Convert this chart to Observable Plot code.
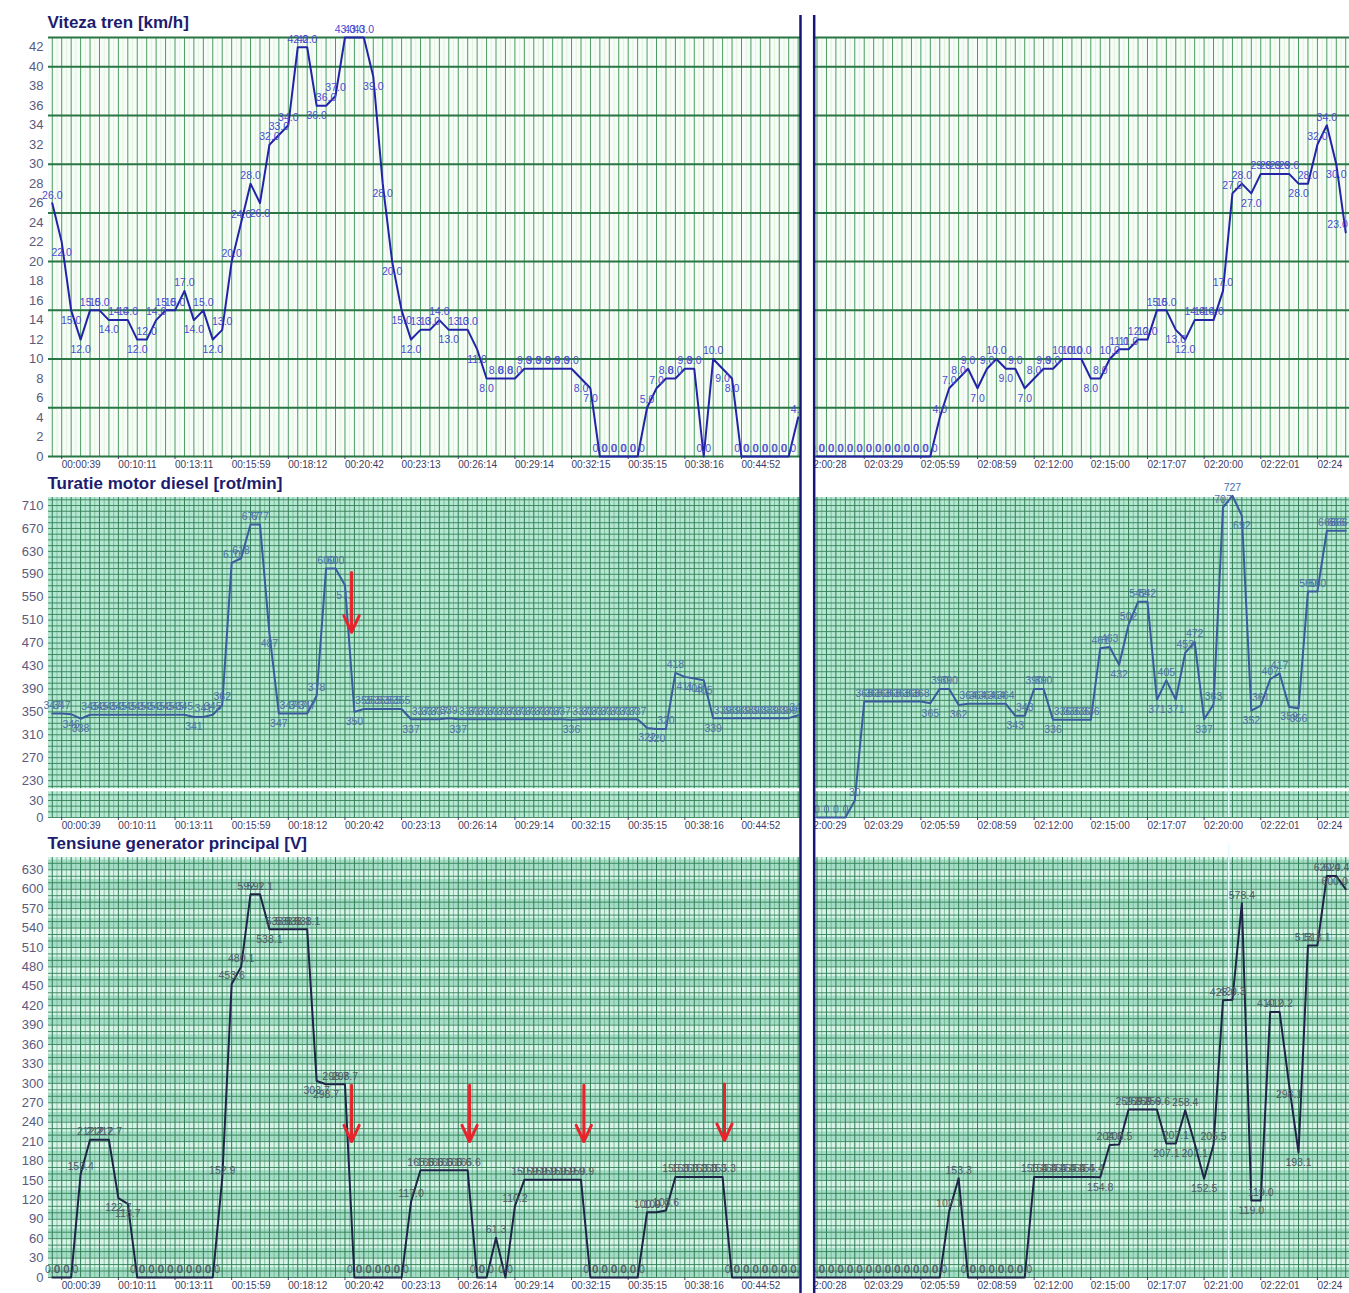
<!DOCTYPE html>
<html><head><meta charset="utf-8">
<script src="https://cdn.jsdelivr.net/npm/d3@7"></script>
<script src="https://cdn.jsdelivr.net/npm/@observablehq/plot@0.6"></script>
<style>
body{margin:0;background:#fff;font-family:"Liberation Sans",Arial,sans-serif;}
#wrap{width:1349px;overflow:hidden;}
#wrap svg{display:block;}
</style></head><body><div id="wrap"></div>
<script>
// ---------- DATA ----------
// sample indices: left block 0..79, right block 81..137
const idxLeft = d3.range(0, 80);
const idxRight = d3.range(81, 138);

const speedLeft = [26,22,15,12,15,15,14,14,14,12, 12,14,15,15,17,14,15,12,13,20, 24,28,26,32,33,34,42,42,36,36,
  37,43,43,43,39,28,20,15,12,13, 13,14,13,13,13,11,8,8,8,8, 9,9,9,9,9,9,8,7,0,0, 0,0,0,5,7,8,8,9,9,0, 10,9,8,0,0,0,0,0,0,4];
const speedRight = [0,0,0,0,0,0,0,0,0,0, 0,0,0,4,7,8,9,7,9,10, 9,9,7,8,9,9,10,10,10,8, 8,10,11,11,12,12,15,15,13,12,
  14,14,14,17,27,28,27,29,29,29, 29,28,28,32,34,30,23];

const rpmLeft = [347,347,346,338,345,345,345,345,345,345, 345,345,345,345,345,341,341,345,362,610, 618,677,677,487,347,347,347,347,378,600,
  600,571,350,355,355,355,355,355,337,337, 337,337,339,337,337,337,337,337,337,337, 337,337,337,337,337,336,337,337,337,337,
  337,337,337,322,320,320,418,411,408,405, 339,339,339,339,339,339,339,339,339,344];
const rpmRight = [0,0,0,0,30,368,368,368,368,368, 368,368,365,390,390,362,364,364,364,364, 364,343,343,390,390,336,336,336,336,336,
  461,463,432,502,542,542,371,405,371,453, 472,337,363,707,727,692,352,361,407,417, 359,356,560,560,666,666,666];

const voltLeft = [0,0,0,159.4,212.7,212.7,212.7,122.7,113.7,0, 0,0,0,0,0,0,0,0,152.9,453.6, 480.1,592.1,592.1,538.1,538.1,538.1,538.1,538.1,303.7,298.7,
  298.7,298.7,0,0,0,0,0,0,117.0,165.6, 165.6,165.6,165.6,165.6,165.6,0,0,61.3,0,110.2, 150.9,150.9,150.9,150.9,150.9,150.9,150.9,0,0,0,
  0,0,0,100.9,100.9,103.6,155.3,155.3,155.3,155.3, 155.3,155.3,0,0,0,0,0,0,0,0];
const voltRight = [0,0,0,0,0,0,0,0,0,0, 0,0,0,0,102.1,153.3,0,0,0,0, 0,0,0,155.4,155.4,155.4,155.4,155.4,155.4,155.4,
  154.8,204.8,205.5,259.6,259.6,259.6,259.6,207.1,207.1,258.4, 207.1,152.5,205.5,428.6,429.3,578.4,119.0,119.0,410.2,410.2,
  298.1,193.1,513.1,513.1,620.4,620.4,600.0];

const xTicksLeft = [1,7,13,19,25,31,37,43,49,55,61,67,73];
const xLabelsLeft = ["00:00:39","00:10:11","00:13:11","00:15:59","00:18:12","00:20:42","00:23:13","00:26:14","00:29:14","00:32:15","00:35:15","00:38:16","00:44:52"];
const xTicksRight = [80,86,92,98,104,110,116,122,128,134];
const xLabelsRight1 = ["02:00:28","02:03:29","02:05:59","02:08:59","02:12:00","02:15:00","02:17:07","02:20:00","02:22:01","02:24"];
const xLabelsRight2 = ["02:00:29","02:03:29","02:05:59","02:08:59","02:12:00","02:15:00","02:17:07","02:20:00","02:22:01","02:24"];
const xLabelsRight3 = ["02:00:28","02:03:29","02:05:59","02:08:59","02:12:00","02:15:00","02:17:07","02:21:00","02:22:01","02:24"];

const speedTicks = d3.range(0, 43, 2);
const rpmTicks = [0, 30, 230, 270, 310, 350, 390, 430, 470, 510, 550, 590, 630, 670, 710];
const voltTicks = d3.range(0, 631, 30);

const titles = ["Viteza tren [km/h]", "Turatie motor diesel [rot/min]", "Tensiune generator principal [V]"];

// red arrows: [sample index, from value, to value]
const arrowsRpm = [{i: 31.7, from: 593, to: 489}];
const arrowsVolt = [{i: 31.7, from: 297, to: 210}, {i: 44.2, from: 297, to: 210}, {i: 56.3, from: 297, to: 210}, {i: 71.2, from: 299, to: 212}];

// ---------- LAYOUT HELPERS ----------
const W = 1349;
const XDOM = [-0.4, 137.4];
const SEGS = [{x1: -0.4, x2: 79.25}, {x1: 80.7, x2: 137.4}];
const DIVS = [79.25, 80.7];
const FONT = "Liberation Sans, Arial, sans-serif";
const LAST = 137;

function series(left, right) {
  return idxLeft.map((i, k) => ({i, v: left[k], seg: "L"}))
    .concat(idxRight.map((i, k) => ({i, v: right[k], seg: "R"})));
}
function withLabels(data) {
  return data.map((d, k) => {
    const prev = k > 0 && data[k - 1].seg === d.seg ? data[k - 1].v : d.v;
    return {...d, below: d.v < prev && d.v > 0};
  });
}
function hGrid(values) {
  return SEGS.flatMap(s => values.map(v => ({...s, v})));
}
const vGridInt = idxLeft.concat(idxRight);
const vGridHalf = d3.range(0, 79, 1).map(i => i + 0.5).concat(d3.range(81, 137).map(i => i + 0.5));

function xAxis(ticks, labels) {
  const m = new Map(ticks.map((t, k) => [t, labels[k]]));
  return Plot.axisX({ticks, tickFormat: t => m.get(t), tickSize: 3, tickPadding: 1, textAnchor: "start",
    fontSize: 10, color: "#3c3c64", label: null});
}
function yAxis(ticks) {
  return Plot.axisY({ticks, tickSize: 0, tickPadding: 5, fontSize: 13, color: "#5a5a7e", label: null});
}
function dividers(top, bottom) {
  return [
    Plot.ruleX([79.975], {stroke: "white", strokeWidth: 13, insetTop: -top, insetBottom: -bottom}),
    Plot.ruleX(DIVS, {stroke: "#16167a", strokeWidth: 2.5, insetTop: -top, insetBottom: -bottom})
  ];
}
function title(text, dy) {
  return Plot.text([text], {frameAnchor: "top-left", dx: -1, dy, textAnchor: "start", lineAnchor: "middle",
    fontSize: 17, fontWeight: "bold", fill: "#1c1c6e"});
}
function valueLabels(data, fmt, fill) {
  const d = withLabels(data);
  const opts = (dy) => ({x: "i", y: "v", text: x => fmt(x.v), dy, fontSize: 10.5, fill});
  return [
    Plot.text(d.filter(x => !x.below && x.i !== LAST), opts(-8)),
    Plot.text(d.filter(x => x.below && x.i !== LAST), opts(10)),
    Plot.text(d.filter(x => x.i === LAST), {...opts(-8), textAnchor: "end", dx: 2})
  ];
}

const wrap = document.getElementById("wrap");

// ---------- PANEL 1: speed ----------
const speed = series(speedLeft, speedRight);
wrap.append(Plot.plot({
  width: W, height: 475, marginTop: 37, marginBottom: 19, marginLeft: 48, marginRight: 0,
  style: {fontFamily: FONT, background: "white", overflow: "visible"},
  x: {domain: XDOM, axis: null},
  y: {domain: [0, 43], axis: null},
  marks: [
    Plot.rect(SEGS, {x1: "x1", x2: "x2", y1: 0, y2: 43, fill: "#f6fdf8"}),
    Plot.ruleX(vGridHalf, {x: d => d, y1: 0, y2: 43, stroke: "#e6f1dc", strokeWidth: 1}),
    Plot.ruleX(vGridInt, {x: d => d, y1: 0, y2: 43, stroke: "#4a9d5e", strokeWidth: 1}),
    Plot.ruleY(hGrid([0, 5, 10, 15, 20, 25, 30, 35, 40, 43]), {y: "v", x1: "x1", x2: "x2", stroke: "#2a7544", strokeWidth: 2}),
    yAxis(speedTicks),
    xAxis(xTicksLeft.concat(xTicksRight), xLabelsLeft.concat(xLabelsRight1)),
    Plot.line(speed, {x: "i", y: "v", z: "seg", stroke: "#2323a8", strokeWidth: 2}),
    ...valueLabels(speed, d3.format(".1f"), "#4b4bd0"),
    ...dividers(22, 19),
    title(titles[0], -15)
  ]
}));

// ---------- PANEL 2: engine rpm (broken axis) ----------
const rpm = series(rpmLeft, rpmRight);
const rpmGrid = d3.range(0, 41, 10).concat(d3.range(220, 721, 10));
wrap.append(Plot.plot({
  width: W, height: 360, marginTop: 22, marginBottom: 18, marginLeft: 48, marginRight: 0,
  style: {fontFamily: FONT, background: "white", overflow: "visible"},
  x: {domain: XDOM, axis: null},
  y: {type: "linear", domain: [0, 45, 218, 724], range: [342, 316.5, 312, 22], axis: null},
  marks: [
    Plot.rect(SEGS, {x1: "x1", x2: "x2", y1: 0, y2: 724, fill: "#b4e8d3"}),
    Plot.ruleX(vGridHalf, {x: d => d, y1: 0, y2: 724, stroke: "#6fb58d", strokeWidth: 0.8}),
    Plot.ruleX(vGridInt, {x: d => d, y1: 0, y2: 724, stroke: "#2f7d52", strokeWidth: 1}),
    Plot.ruleY(hGrid(rpmGrid), {y: "v", x1: "x1", x2: "x2", stroke: "#357f57", strokeWidth: 0.9}),
    Plot.ruleY(hGrid([130]), {y: "v", x1: "x1", x2: "x2", stroke: "white", strokeWidth: 3}),
    yAxis(rpmTicks),
    xAxis(xTicksLeft.concat(xTicksRight), xLabelsLeft.concat(xLabelsRight2)),
    Plot.ruleX([124.6], {stroke: "#e6fbff", strokeWidth: 1.5, insetTop: -18}),
    Plot.line(rpm, {x: "i", y: "v", z: "seg", stroke: "#3a5c9c", strokeWidth: 2}),
    ...valueLabels(rpm, d3.format("d"), "#4f6fa6"),
    Plot.arrow(arrowsRpm, {x1: "i", x2: "i", y1: "from", y2: "to", stroke: "#e8232b", strokeWidth: 3, headLength: 9, headAngle: 50}),
    ...dividers(22, 18),
    title(titles[1], -14)
  ]
}));

// ---------- PANEL 3: generator voltage ----------
const volt = series(voltLeft, voltRight);
const bands = SEGS.flatMap(s => d3.range(0, 650, 30).map(v => ({...s, v1: v, v2: v + 15})));
wrap.append(Plot.plot({
  width: W, height: 458, marginTop: 22, marginBottom: 16, marginLeft: 48, marginRight: 0,
  style: {fontFamily: FONT, background: "white", overflow: "visible"},
  x: {domain: XDOM, axis: null},
  y: {domain: [0, 649], axis: null},
  marks: [
    Plot.rect(SEGS, {x1: "x1", x2: "x2", y1: 0, y2: 649, fill: "#d6f3e8"}),
    Plot.rect(bands, {x1: "x1", x2: "x2", y1: "v1", y2: "v2", fill: "#a4ddc7"}),
    Plot.ruleX(vGridHalf, {x: d => d, y1: 0, y2: 649, stroke: "#6fb58d", strokeWidth: 0.8}),
    Plot.ruleX(vGridInt, {x: d => d, y1: 0, y2: 649, stroke: "#2f7d52", strokeWidth: 1}),
    Plot.ruleY(hGrid(d3.range(0, 650, 10)), {y: "v", x1: "x1", x2: "x2", stroke: "#357f57", strokeWidth: 0.9}),
    yAxis(voltTicks),
    xAxis(xTicksLeft.concat(xTicksRight), xLabelsLeft.concat(xLabelsRight3)),
    Plot.ruleX([124.6], {stroke: "#e6fbff", strokeWidth: 1.5, insetTop: -14, insetBottom: -12}),
    Plot.line(volt, {x: "i", y: "v", z: "seg", stroke: "#1e2446", strokeWidth: 2}),
    ...valueLabels(volt, d3.format(".1f"), "#4e5a66"),
    Plot.arrow(arrowsVolt, {x1: "i", x2: "i", y1: "from", y2: "to", stroke: "#e8232b", strokeWidth: 3, headLength: 9, headAngle: 50}),
    ...dividers(22, 16),
    title(titles[2], -14)
  ]
}));
</script></body></html>
